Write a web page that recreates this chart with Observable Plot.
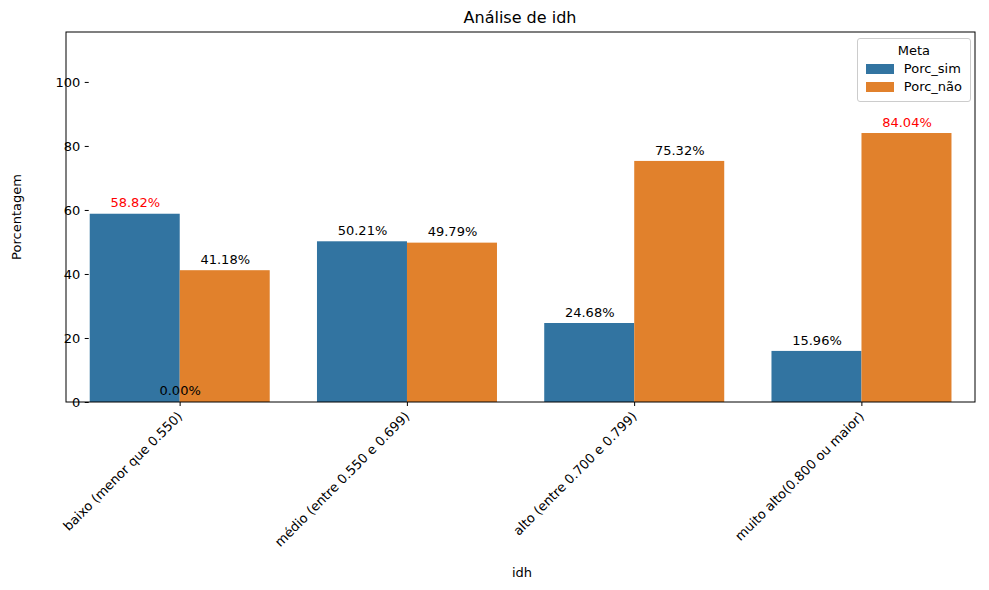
<!DOCTYPE html>
<html><head><meta charset="utf-8">
<script src="https://cdn.jsdelivr.net/npm/d3@7"></script>
<script src="https://cdn.jsdelivr.net/npm/@observablehq/plot@0.6"></script>
<style>
body{margin:0;font-family:"DejaVu Sans",sans-serif;background:#fff}
#wrap{position:relative;width:989px;height:590px}
#legend{position:absolute;right:18px;top:38px;border:1px solid #ccc;border-radius:3px;background:#fff;padding:4px 8px;font-size:13px}
#legend .t{text-align:center;margin-bottom:3px}
#legend .r{display:flex;align-items:center;margin:3px 0}
#legend .s{width:28px;height:10px;margin-right:10px}
</style></head><body>
<div id="wrap"><div id="chart"></div>
<div id="legend"><div class="t">Meta</div>
<div class="r"><span class="s" style="background:#3274a1"></span>Porc_sim</div>
<div class="r"><span class="s" style="background:#e1812c"></span>Porc_não</div></div></div>
<script>
const categorias = ['baixo (menor que 0.550)', 'médio (entre 0.550 e 0.699)', 'alto (entre 0.700 e 0.799)', 'muito alto(0.800 ou maior)'];
const series = ['Porc_sim', 'Porc_não'];
const porcSim = [58.82, 50.21, 24.68, 15.96];
const porcNao = [41.18, 49.79, 75.32, 84.04];
const destaque = [[true, false], [false, false], [false, false], [false, true]];

const data = categorias.flatMap((c, i) => [
  {idh: c, meta: series[0], v: porcSim[i], red: destaque[i][0]},
  {idh: c, meta: series[1], v: porcNao[i], red: destaque[i][1]}
]);
const zeros = [{idh: categorias[0], v: 0}];

const chart = Plot.plot({
  width: 989, height: 590,
  marginLeft: 66, marginRight: 14, marginTop: 32, marginBottom: 188,
  style: {fontSize: "13px", fontFamily: "DejaVu Sans, sans-serif", color: "black"},
  fx: {domain: categorias, paddingInner: 0.2, paddingOuter: 0.1, round: false, label: null, axis: null},
  x: {domain: series, padding: 0, axis: null},
  y: {domain: [0, 115.6], ticks: [0, 20, 40, 60, 80, 100], label: null},
  color: {domain: series, range: ['#3274a1', '#e1812c']},
  marks: [
    Plot.barY(data, {fx: 'idh', x: 'meta', y: 'v', fill: 'meta'}),
    Plot.text(data, {fx: 'idh', x: 'meta', y: 'v', text: d => d.v.toFixed(2) + '%', dy: -11, fill: d => d.red ? 'red' : 'black'}),
    Plot.text(zeros, {fx: 'idh', y: 'v', text: d => d.v.toFixed(2) + '%', dy: -12}),
    Plot.axisY({ticks: [0, 20, 40, 60, 80, 100], tickSize: 4, label: null, fontSize: 13}),
    Plot.axisFx({anchor: 'bottom', tickRotate: -45, tickSize: 4, label: null, fontSize: 13})
  ]
});
d3.select('#chart').append(() => chart);

const svg = d3.select(chart);
svg.append('rect').attr('x', 66).attr('y', 32).attr('width', 909).attr('height', 370)
  .attr('fill', 'none').attr('stroke', 'black').attr('stroke-width', 1);
svg.append('text').attr('x', 520).attr('y', 23).attr('text-anchor', 'middle').attr('font-size', 16).text('Análise de idh');
svg.append('text').attr('x', 522).attr('y', 577).attr('text-anchor', 'middle').attr('font-size', 13).text('idh');
svg.append('text').attr('transform', 'translate(21,217) rotate(-90)').attr('text-anchor', 'middle').attr('font-size', 13).text('Porcentagem');
</script></body></html>
